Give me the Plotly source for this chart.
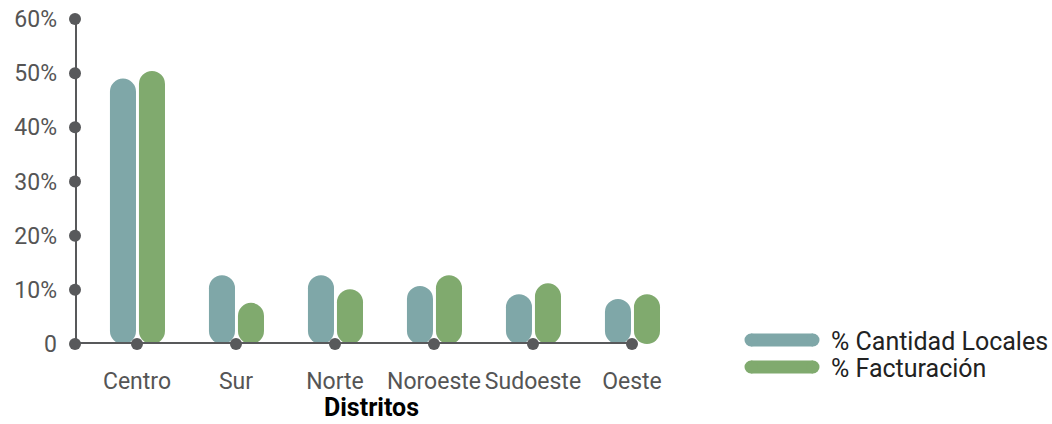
import plotly.graph_objects as go

categories = ["Centro", "Sur", "Norte", "Noroeste", "Sudoeste", "Oeste"]
locales = [49.0, 12.7, 12.7, 10.7, 9.2, 8.3]
facturacion = [50.4, 7.6, 10.1, 12.7, 11.2, 9.2]
y_ticks = [0, 10, 20, 30, 40, 50, 60]
y_tick_labels = ["0", "10%", "20%", "30%", "40%", "50%", "60%"]
series_names = ["% Cantidad Locales", "% Facturación"]

TEAL = "#7FA7A8"
GREEN = "#80AA6E"
AXIS = "#58595B"
FONT = "Roboto"

xs = list(range(len(categories)))
x_axis_start = -0.626
bar_w = 0.263
offsets = [-0.273, 0.02]
colors = [TEAL, GREEN]

fig = go.Figure()

# axes (drawn as lines with dots)
fig.add_trace(go.Scatter(x=[x_axis_start, x_axis_start], y=[y_ticks[0], y_ticks[-1]],
                         mode="lines", line=dict(color=AXIS, width=4),
                         showlegend=False, hoverinfo="skip", cliponaxis=False))
fig.add_trace(go.Scatter(x=[x_axis_start, xs[-1]], y=[0, 0],
                         mode="lines", line=dict(color=AXIS, width=4),
                         showlegend=False, hoverinfo="skip", cliponaxis=False))

for vals, color, off, name in zip([locales, facturacion], colors, offsets, series_names):
    fig.add_trace(go.Bar(x=xs, y=vals, base=[0] * len(vals), name=name,
                         width=bar_w, offset=off,
                         marker=dict(color=color, cornerradius=13, line=dict(width=0)),
                         showlegend=False, cliponaxis=False))

# dots on axes
fig.add_trace(go.Scatter(x=[x_axis_start] * len(y_ticks), y=y_ticks, mode="markers",
                         marker=dict(color=AXIS, size=12), showlegend=False,
                         hoverinfo="skip", cliponaxis=False))
fig.add_trace(go.Scatter(x=xs, y=[0] * len(xs), mode="markers",
                         marker=dict(color=AXIS, size=12), showlegend=False,
                         hoverinfo="skip", cliponaxis=False))

# plot area in pixels: x 75..700, y 19..344
PL, PR, PT, PB = 75, 700, 19, 344


def px_x(p):
    return (p - PL) / (PR - PL)


def px_y(p):
    return (PB - p) / (PB - PT)


shapes = []
annotations = []
legend_rows = [340, 367]
for name, color, row in zip(series_names, colors, legend_rows):
    shapes.append(dict(type="line", xref="paper", yref="paper",
                       x0=px_x(751), x1=px_x(813), y0=px_y(row), y1=px_y(row),
                       line=dict(color=color, width=13)))
    for cx in (751, 813):
        shapes.append(dict(type="circle", xref="paper", yref="paper",
                           xsizemode="pixel", ysizemode="pixel",
                           xanchor=px_x(cx), yanchor=px_y(row),
                           x0=-6.5, x1=6.5, y0=-6.5, y1=6.5,
                           fillcolor=color, line=dict(width=0)))
    annotations.append(dict(text=name, xref="paper", yref="paper",
                            x=px_x(829), y=px_y(row + 1), xanchor="left", yanchor="middle",
                            showarrow=False, font=dict(size=25, color="#222222", family=FONT)))

annotations.append(dict(text="<b>Distritos</b>", xref="paper", yref="paper",
                        x=px_x(371), y=px_y(424), xanchor="center", yanchor="bottom",
                        showarrow=False, font=dict(size=25, color="#000000", family=FONT)))

fig.update_layout(
    width=1052, height=424,
    margin=dict(l=PL, r=1052 - PR, t=PT, b=424 - PB, autoexpand=False),
    paper_bgcolor="white", plot_bgcolor="white",
    barmode="overlay",
    font=dict(family=FONT, color="#555555", size=23),
    xaxis=dict(range=[x_axis_start, 5.687], tickmode="array", tickvals=xs, ticktext=categories,
               showgrid=False, zeroline=False, showline=False, ticks="", automargin=False,
               ticklabelstandoff=21, tickfont=dict(size=23, color="#555555")),
    yaxis=dict(range=[0, 60], tickmode="array", tickvals=y_ticks, ticktext=y_tick_labels,
               showgrid=False, zeroline=False, showline=False, ticks="", automargin=False,
               ticklabelstandoff=17, tickfont=dict(size=23, color="#555555")),
    shapes=shapes,
    annotations=annotations,
    showlegend=False,
)

fig.write_html("out.html", config={"displayModeBar": False},
               post_script="document.body.style.margin='0';document.body.style.overflow='hidden';")
